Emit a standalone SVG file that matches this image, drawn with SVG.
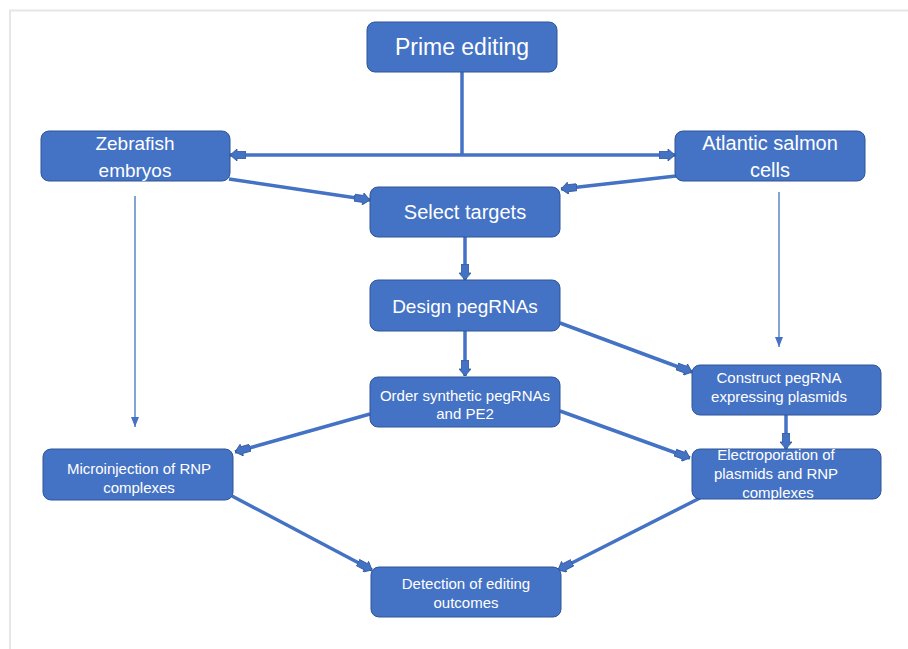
<svg xmlns="http://www.w3.org/2000/svg" width="908" height="649" viewBox="0 0 908 649">
<defs>
<style>
.box{fill:#4472C4;stroke:#2F5597;stroke-width:1}
.t{font-family:"Liberation Sans",Arial,sans-serif;fill:#ffffff;text-anchor:middle}
.big{font-size:20px}
.sm{font-size:15px}
.c{fill:none;stroke:#4472C4;stroke-width:3.5}
.thin{fill:none;stroke:#4472C4;stroke-width:1.3}
</style>
<marker id="ah" viewBox="0 0 16 12" refX="16" refY="6" markerWidth="16" markerHeight="12" markerUnits="userSpaceOnUse" orient="auto">
<path d="M0,2.5 H9 V0 L16,6 L9,12 V9.5 H0 Z" fill="#4472C4" stroke="#2F5597" stroke-width="0.8"/>
</marker>
<marker id="sh" viewBox="0 0 10 8" refX="10" refY="4" markerWidth="10" markerHeight="8" markerUnits="userSpaceOnUse" orient="auto">
<path d="M0,0 L10,4 L0,8 Z" fill="#4472C4"/>
</marker>
</defs>
<rect width="908" height="649" fill="#ffffff"/>
<path d="M10,649 V10.5 H908" fill="none" stroke="#e6e6e6" stroke-width="2"/>
<g id="connectors">
<line class="c" x1="462" y1="72" x2="462" y2="155"/>
<line class="c" x1="462" y1="155" x2="230" y2="155" marker-end="url(#ah)"/>
<line class="c" x1="462" y1="155" x2="675" y2="155" marker-end="url(#ah)"/>
<line class="c" x1="229" y1="179" x2="370" y2="200" marker-end="url(#ah)"/>
<line class="c" x1="676" y1="176" x2="561" y2="189" marker-end="url(#ah)"/>
<line class="c" x1="465" y1="237" x2="465" y2="280" marker-end="url(#ah)"/>
<line class="c" x1="465" y1="331" x2="465" y2="376" marker-end="url(#ah)"/>
<line class="c" x1="560" y1="323" x2="692" y2="372" marker-end="url(#ah)"/>
<line class="c" x1="370" y1="414" x2="235" y2="452" marker-end="url(#ah)"/>
<line class="c" x1="560" y1="411" x2="690" y2="458" marker-end="url(#ah)"/>
<line class="c" x1="786" y1="415" x2="786" y2="449" marker-end="url(#ah)"/>
<line class="c" x1="232" y1="496" x2="372" y2="570" marker-end="url(#ah)"/>
<line class="c" x1="700" y1="498" x2="558" y2="570" marker-end="url(#ah)"/>
<line class="thin" x1="135" y1="196" x2="135" y2="427" marker-end="url(#sh)"/>
<line class="thin" x1="779" y1="192" x2="779" y2="347" marker-end="url(#sh)"/>
</g>
<g id="prime">
<rect class="box" x="367" y="22" width="190" height="50" rx="8"/>
<text class="t" x="462" y="55" style="font-size:23px">Prime editing</text>
</g>
<g id="zebrafish">
<rect class="box" x="41" y="131" width="189" height="50" rx="8"/>
<text class="t big" x="135" y="150" style="font-size:19px">Zebrafish</text>
<text class="t big" x="135" y="177" style="font-size:19px">embryos</text>
</g>
<g id="salmon">
<rect class="box" x="675" y="131" width="190" height="50" rx="8"/>
<text class="t big" x="770" y="150">Atlantic salmon</text>
<text class="t big" x="770" y="177">cells</text>
</g>
<g id="select">
<rect class="box" x="370" y="187" width="190" height="50" rx="8"/>
<text class="t big" x="465" y="219">Select targets</text>
</g>
<g id="design">
<rect class="box" x="370" y="280" width="190" height="51" rx="8"/>
<text class="t" x="465" y="313" style="font-size:19px">Design pegRNAs</text>
</g>
<g id="order">
<rect class="box" x="370" y="377" width="190" height="50" rx="8"/>
<text class="t sm" x="465" y="401">Order synthetic pegRNAs</text>
<text class="t sm" x="465" y="419">and PE2</text>
</g>
<g id="construct">
<rect class="box" x="692" y="365" width="189" height="50" rx="8"/>
<text class="t sm" x="779" y="383">Construct pegRNA</text>
<text class="t sm" x="779" y="402">expressing plasmids</text>
</g>
<g id="microinjection">
<rect class="box" x="43" y="449" width="190" height="51" rx="8"/>
<text class="t sm" x="139" y="474">Microinjection of RNP</text>
<text class="t sm" x="139" y="493">complexes</text>
</g>
<g id="electroporation">
<rect class="box" x="692" y="449" width="189" height="50" rx="8"/>
<text class="t sm" x="776" y="460">Electroporation of</text>
<text class="t sm" x="776" y="479">plasmids and RNP</text>
<text class="t sm" x="778" y="498">complexes</text>
</g>
<g id="detection">
<rect class="box" x="371" y="567" width="190" height="50" rx="8"/>
<text class="t sm" x="466" y="589">Detection of editing</text>
<text class="t sm" x="466" y="608">outcomes</text>
</g>
</svg>
